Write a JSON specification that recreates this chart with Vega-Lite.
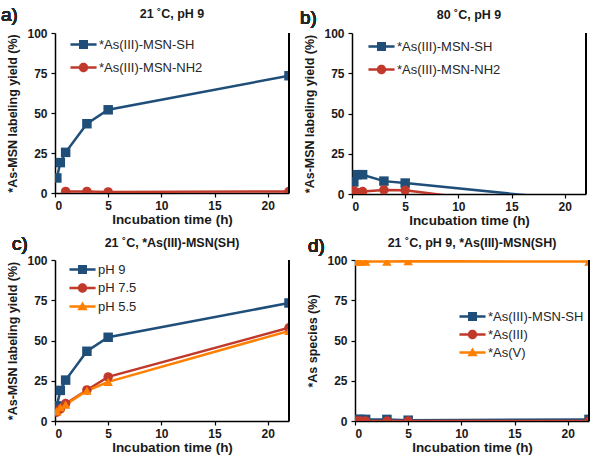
{
  "$schema": "https://vega.github.io/schema/vega-lite/v6.json",
  "padding": {"left": 1, "top": 6, "right": 5, "bottom": 5},
  "background": "white",
  "config": {
    "font": "Liberation Sans",
    "view": {"stroke": null},
    "axis": {"labelFont": "Liberation Sans", "labelFontWeight": "bold", "labelFontSize": 12, "labelColor": "#1a1a1a", "titleFont": "Liberation Sans", "titleFontWeight": "bold", "titleColor": "#1a1a1a", "domainColor": "#000", "domainWidth": 1.5, "tickColor": "#000", "tickWidth": 1.2, "tickSize": 4, "grid": false},
    "axisX": {"titleFontSize": 13.5, "labelPadding": 3, "titlePadding": 1},
    "axisY": {"titleFontSize": 12.5, "labelPadding": 4, "titlePadding": 7},
    "title": {"font": "Liberation Sans", "fontSize": 12.5, "fontWeight": "bold", "color": "#1a1a1a"},
    "legend": {"labelFont": "Liberation Sans", "labelFontSize": 13, "labelColor": "#262626", "padding": 0, "symbolSize": 81, "labelOffset": 9}
  },
  "datasets": {
    "a": [
      {"t": 0.17, "v": 9.4, "s": "*As(III)-MSN-SH"},
      {"t": 0.5, "v": 19, "s": "*As(III)-MSN-SH"},
      {"t": 1, "v": 25.4, "s": "*As(III)-MSN-SH"},
      {"t": 3, "v": 43.3, "s": "*As(III)-MSN-SH"},
      {"t": 5, "v": 52, "s": "*As(III)-MSN-SH"},
      {"t": 22, "v": 73.3, "s": "*As(III)-MSN-SH"},
      {"t": 1, "v": 1, "s": "*As(III)-MSN-NH2"},
      {"t": 3, "v": 1, "s": "*As(III)-MSN-NH2"},
      {"t": 5, "v": 0.7, "s": "*As(III)-MSN-NH2"},
      {"t": 22, "v": 1, "s": "*As(III)-MSN-NH2"}
    ],
    "b": [
      {"t": 0.17, "v": 7.5, "s": "*As(III)-MSN-SH"},
      {"t": 0.5, "v": 12, "s": "*As(III)-MSN-SH"},
      {"t": 1, "v": 12, "s": "*As(III)-MSN-SH"},
      {"t": 3, "v": 8, "s": "*As(III)-MSN-SH"},
      {"t": 5, "v": 6.8, "s": "*As(III)-MSN-SH"},
      {"t": 22, "v": -4.5, "s": "*As(III)-MSN-SH"},
      {"t": 0.17, "v": 2, "s": "*As(III)-MSN-NH2"},
      {"t": 0.5, "v": 1, "s": "*As(III)-MSN-NH2"},
      {"t": 1, "v": 1.5, "s": "*As(III)-MSN-NH2"},
      {"t": 3, "v": 2.5, "s": "*As(III)-MSN-NH2"},
      {"t": 5, "v": 2.3, "s": "*As(III)-MSN-NH2"},
      {"t": 22, "v": -11.7, "s": "*As(III)-MSN-NH2"}
    ],
    "c": [
      {"t": 0.17, "v": 9.4, "s": "pH 9"},
      {"t": 0.5, "v": 19, "s": "pH 9"},
      {"t": 1, "v": 25.4, "s": "pH 9"},
      {"t": 3, "v": 43.3, "s": "pH 9"},
      {"t": 5, "v": 52, "s": "pH 9"},
      {"t": 22, "v": 73.3, "s": "pH 9"},
      {"t": 0.17, "v": 5.5, "s": "pH 7.5"},
      {"t": 0.5, "v": 7.5, "s": "pH 7.5"},
      {"t": 1, "v": 10.8, "s": "pH 7.5"},
      {"t": 3, "v": 19.3, "s": "pH 7.5"},
      {"t": 5, "v": 27.4, "s": "pH 7.5"},
      {"t": 22, "v": 57.9, "s": "pH 7.5"},
      {"t": 0.17, "v": 6, "s": "pH 5.5"},
      {"t": 0.5, "v": 8.5, "s": "pH 5.5"},
      {"t": 1, "v": 10.2, "s": "pH 5.5"},
      {"t": 3, "v": 18.8, "s": "pH 5.5"},
      {"t": 5, "v": 24.3, "s": "pH 5.5"},
      {"t": 22, "v": 56, "s": "pH 5.5"}
    ],
    "d": [
      {"t": 0.17, "v": 1, "s": "*As(III)-MSN-SH"},
      {"t": 0.5, "v": 1, "s": "*As(III)-MSN-SH"},
      {"t": 1, "v": 1, "s": "*As(III)-MSN-SH"},
      {"t": 3, "v": 1, "s": "*As(III)-MSN-SH"},
      {"t": 5, "v": 0.5, "s": "*As(III)-MSN-SH"},
      {"t": 22, "v": 1, "s": "*As(III)-MSN-SH"},
      {"t": 0.17, "v": 0, "s": "*As(III)"},
      {"t": 0.5, "v": 0, "s": "*As(III)"},
      {"t": 1, "v": 0, "s": "*As(III)"},
      {"t": 3, "v": 0, "s": "*As(III)"},
      {"t": 5, "v": 0, "s": "*As(III)"},
      {"t": 22, "v": 0, "s": "*As(III)"},
      {"t": 0.17, "v": 99, "s": "*As(V)"},
      {"t": 0.5, "v": 99, "s": "*As(V)"},
      {"t": 1, "v": 99, "s": "*As(V)"},
      {"t": 3, "v": 99, "s": "*As(V)"},
      {"t": 5, "v": 99.3, "s": "*As(V)"},
      {"t": 22, "v": 99, "s": "*As(V)"}
    ]
  },
  "spacing": 8,
  "resolve": {"scale": {"color": "independent"}, "legend": {"color": "independent"}},
  "vconcat": [
    {
      "spacing": 10,
      "resolve": {"scale": {"color": "independent"}, "legend": {"color": "independent"}},
      "hconcat": [
        {
          "width": 234, "height": 160,
          "title": {"text": "21 ˚C, pH 9", "offset": -14.5},
          "data": {"name": "a"},
          "encoding": {
            "x": {"field": "t", "type": "quantitative", "scale": {"domain": [0, 22], "nice": false}, "axis": {"values": [0, 5, 10, 15, 20], "title": "Incubation time (h)"}},
            "y": {"field": "v", "type": "quantitative", "scale": {"domain": [0, 100], "nice": false}, "axis": {"values": [0, 25, 50, 75, 100], "title": "*As-MSN labeling yield (%)"}}
          },
          "layer": [
            {
              "mark": {"type": "line", "strokeWidth": 2.5, "clip": true},
              "encoding": {
                "color": {"field": "s", "type": "nominal", "scale": {"domain": ["*As(III)-MSN-SH", "*As(III)-MSN-NH2"], "range": ["#1F4E79", "#C0392B"]},
                  "legend": {"title": null, "orient": "none", "legendX": 22, "legendY": 5, "rowPadding": 9,
                    "encode": {"symbols": {"update": {
                      "shape": {"signal": "datum.index === 0 ? 'M-2.9,-0.28H-1V-1H1V-0.28H2.9V0.28H1V1H-1V0.28H-2.9Z' : 'M-2.9,-0.28H2.9V0.28H-2.9Z M-1.05,0A1.05,1.05,0,1,1,1.05,0A1.05,1.05,0,1,1,-1.05,0Z'"},
                      "fill": {"signal": "['#1F4E79','#C0392B','#FF8000'][datum.index]"},
                      "stroke": {"value": "transparent"}, "strokeWidth": {"value": 0}, "opacity": {"value": 1}, "fillOpacity": {"value": 1}}}}}}
              }
            },
            {"transform": [{"filter": {"field": "s", "equal": "*As(III)-MSN-SH"}}], "mark": {"type": "point", "shape": "square", "filled": true, "size": 90, "opacity": 1, "clip": true}, "encoding": {"color": {"field": "s", "type": "nominal", "legend": null}}},
            {"transform": [{"filter": {"field": "s", "equal": "*As(III)-MSN-NH2"}}], "mark": {"type": "point", "shape": "circle", "filled": true, "size": 90, "opacity": 1, "clip": true}, "encoding": {"color": {"field": "s", "type": "nominal", "legend": null}}},
            {"mark": {"type": "rule", "color": "#000", "strokeWidth": 1.5}, "encoding": {"x": {"datum": 22}, "y": {"datum": 0}, "y2": {"datum": 100}}},
            {"mark": {"type": "text", "text": "a)", "fontSize": 19, "fontWeight": "normal", "align": "left", "baseline": "middle", "dx": -54, "dy": -18, "color": "#262626"}, "encoding": {"x": {"datum": 0}, "y": {"datum": 100}}}
          ]
        },
        {
          "width": 234, "height": 161,
          "title": {"text": "80 ˚C, pH 9", "offset": -12.5},
          "data": {"name": "b"},
          "encoding": {
            "x": {"field": "t", "type": "quantitative", "scale": {"domain": [0, 22], "nice": false}, "axis": {"values": [0, 5, 10, 15, 20], "title": "Incubation time (h)"}},
            "y": {"field": "v", "type": "quantitative", "scale": {"domain": [0, 100], "nice": false}, "axis": {"values": [0, 25, 50, 75, 100], "title": "*As-MSN labeling yield (%)"}}
          },
          "layer": [
            {
              "mark": {"type": "line", "strokeWidth": 2.5, "clip": true},
              "encoding": {
                "color": {"field": "s", "type": "nominal", "scale": {"domain": ["*As(III)-MSN-SH", "*As(III)-MSN-NH2"], "range": ["#1F4E79", "#C0392B"]},
                  "legend": {"title": null, "orient": "none", "legendX": 23, "legendY": 7, "rowPadding": 9,
                    "encode": {"symbols": {"update": {
                      "shape": {"signal": "datum.index === 0 ? 'M-2.9,-0.28H-1V-1H1V-0.28H2.9V0.28H1V1H-1V0.28H-2.9Z' : 'M-2.9,-0.28H2.9V0.28H-2.9Z M-1.05,0A1.05,1.05,0,1,1,1.05,0A1.05,1.05,0,1,1,-1.05,0Z'"},
                      "fill": {"signal": "['#1F4E79','#C0392B','#FF8000'][datum.index]"},
                      "stroke": {"value": "transparent"}, "strokeWidth": {"value": 0}, "opacity": {"value": 1}, "fillOpacity": {"value": 1}}}}}}
              }
            },
            {"transform": [{"filter": {"field": "s", "equal": "*As(III)-MSN-SH"}}], "mark": {"type": "point", "shape": "square", "filled": true, "size": 90, "opacity": 1, "clip": true}, "encoding": {"color": {"field": "s", "type": "nominal", "legend": null}}},
            {"transform": [{"filter": {"field": "s", "equal": "*As(III)-MSN-NH2"}}], "mark": {"type": "point", "shape": "circle", "filled": true, "size": 90, "opacity": 1, "clip": true}, "encoding": {"color": {"field": "s", "type": "nominal", "legend": null}}},
            {"mark": {"type": "rule", "color": "#000", "strokeWidth": 1.5}, "encoding": {"x": {"datum": 22}, "y": {"datum": 0}, "y2": {"datum": 100}}},
            {"mark": {"type": "text", "text": "b)", "fontSize": 19, "fontWeight": "normal", "align": "left", "baseline": "middle", "dx": -52, "dy": -15, "color": "#262626"}, "encoding": {"x": {"datum": 0}, "y": {"datum": 100}}}
          ]
        }
      ]
    },
    {
      "spacing": 16,
      "resolve": {"scale": {"color": "independent"}, "legend": {"color": "independent"}},
      "hconcat": [
        {
          "width": 234, "height": 161,
          "title": {"text": "21 ˚C, *As(III)-MSN(SH)", "offset": -14.5},
          "data": {"name": "c"},
          "encoding": {
            "x": {"field": "t", "type": "quantitative", "scale": {"domain": [0, 22], "nice": false}, "axis": {"values": [0, 5, 10, 15, 20], "title": "Incubation time (h)"}},
            "y": {"field": "v", "type": "quantitative", "scale": {"domain": [0, 100], "nice": false}, "axis": {"values": [0, 25, 50, 75, 100], "title": "*As-MSN labeling yield (%)"}}
          },
          "layer": [
            {
              "mark": {"type": "line", "strokeWidth": 2.5, "clip": true},
              "encoding": {
                "color": {"field": "s", "type": "nominal", "scale": {"domain": ["pH 9", "pH 7.5", "pH 5.5"], "range": ["#1F4E79", "#C0392B", "#FF8000"]},
                  "legend": {"title": null, "orient": "none", "legendX": 21, "legendY": 3, "rowPadding": 4.5,
                    "encode": {"symbols": {"update": {
                      "shape": {"signal": "datum.index === 0 ? 'M-2.9,-0.28H-1V-1H1V-0.28H2.9V0.28H1V1H-1V0.28H-2.9Z' : datum.index === 1 ? 'M-2.9,-0.28H2.9V0.28H-2.9Z M-1.05,0A1.05,1.05,0,1,1,1.05,0A1.05,1.05,0,1,1,-1.05,0Z' : 'M-2.9,-0.28H2.9V0.28H-2.9Z M0,-1.1L1.15,0.85L-1.15,0.85Z'"},
                      "fill": {"signal": "['#1F4E79','#C0392B','#FF8000'][datum.index]"},
                      "stroke": {"value": "transparent"}, "strokeWidth": {"value": 0}, "opacity": {"value": 1}, "fillOpacity": {"value": 1}}}}}}
              }
            },
            {"transform": [{"filter": {"field": "s", "equal": "pH 9"}}], "mark": {"type": "point", "shape": "square", "filled": true, "size": 90, "opacity": 1, "clip": true}, "encoding": {"color": {"field": "s", "type": "nominal", "legend": null}}},
            {"transform": [{"filter": {"field": "s", "equal": "pH 7.5"}}], "mark": {"type": "point", "shape": "circle", "filled": true, "size": 90, "opacity": 1, "clip": true}, "encoding": {"color": {"field": "s", "type": "nominal", "legend": null}}},
            {"transform": [{"filter": {"field": "s", "equal": "pH 5.5"}}], "mark": {"type": "point", "shape": "triangle-up", "filled": true, "size": 90, "opacity": 1, "clip": true}, "encoding": {"color": {"field": "s", "type": "nominal", "legend": null}}},
            {"mark": {"type": "rule", "color": "#000", "strokeWidth": 1.5}, "encoding": {"x": {"datum": 22}, "y": {"datum": 0}, "y2": {"datum": 100}}},
            {"mark": {"type": "text", "text": "c)", "fontSize": 19, "fontWeight": "normal", "align": "left", "baseline": "middle", "dx": -43, "dy": -16, "color": "#262626"}, "encoding": {"x": {"datum": 0}, "y": {"datum": 100}}}
          ]
        },
        {
          "width": 234, "height": 161,
          "title": {"text": "21 ˚C, pH 9, *As(III)-MSN(SH)", "offset": -12.5},
          "data": {"name": "d"},
          "encoding": {
            "x": {"field": "t", "type": "quantitative", "scale": {"domain": [0, 22], "nice": false}, "axis": {"values": [0, 5, 10, 15, 20], "title": "Incubation time (h)"}},
            "y": {"field": "v", "type": "quantitative", "scale": {"domain": [0, 100], "nice": false}, "axis": {"values": [0, 25, 50, 75, 100], "title": "*As species (%)"}}
          },
          "layer": [
            {
              "mark": {"type": "line", "strokeWidth": 2.5, "clip": true},
              "encoding": {
                "color": {"field": "s", "type": "nominal", "scale": {"domain": ["*As(III)-MSN-SH", "*As(III)", "*As(V)"], "range": ["#1F4E79", "#C0392B", "#FF8000"]},
                  "legend": {"title": null, "orient": "none", "legendX": 111, "legendY": 50, "rowPadding": 4,
                    "encode": {"symbols": {"update": {
                      "shape": {"signal": "datum.index === 0 ? 'M-2.9,-0.28H-1V-1H1V-0.28H2.9V0.28H1V1H-1V0.28H-2.9Z' : datum.index === 1 ? 'M-2.9,-0.28H2.9V0.28H-2.9Z M-1.05,0A1.05,1.05,0,1,1,1.05,0A1.05,1.05,0,1,1,-1.05,0Z' : 'M-2.9,-0.28H2.9V0.28H-2.9Z M0,-1.1L1.15,0.85L-1.15,0.85Z'"},
                      "fill": {"signal": "['#1F4E79','#C0392B','#FF8000'][datum.index]"},
                      "stroke": {"value": "transparent"}, "strokeWidth": {"value": 0}, "opacity": {"value": 1}, "fillOpacity": {"value": 1}}}}}}
              }
            },
            {"transform": [{"filter": {"field": "s", "equal": "*As(III)-MSN-SH"}}], "mark": {"type": "point", "shape": "square", "filled": true, "size": 90, "opacity": 1, "clip": true}, "encoding": {"color": {"field": "s", "type": "nominal", "legend": null}}},
            {"transform": [{"filter": {"field": "s", "equal": "*As(III)"}}], "mark": {"type": "point", "shape": "circle", "filled": true, "size": 90, "opacity": 1, "clip": true}, "encoding": {"color": {"field": "s", "type": "nominal", "legend": null}}},
            {"transform": [{"filter": {"field": "s", "equal": "*As(V)"}}], "mark": {"type": "point", "shape": "triangle-up", "filled": true, "size": 90, "opacity": 1, "clip": true}, "encoding": {"color": {"field": "s", "type": "nominal", "legend": null}}},
            {"mark": {"type": "rule", "color": "#000", "strokeWidth": 1.5}, "encoding": {"x": {"datum": 22}, "y": {"datum": 0}, "y2": {"datum": 100}}},
            {"mark": {"type": "text", "text": "d)", "fontSize": 19, "fontWeight": "normal", "align": "left", "baseline": "middle", "dx": -47, "dy": -14, "color": "#262626"}, "encoding": {"x": {"datum": 0}, "y": {"datum": 100}}}
          ]
        }
      ]
    }
  ]
}
